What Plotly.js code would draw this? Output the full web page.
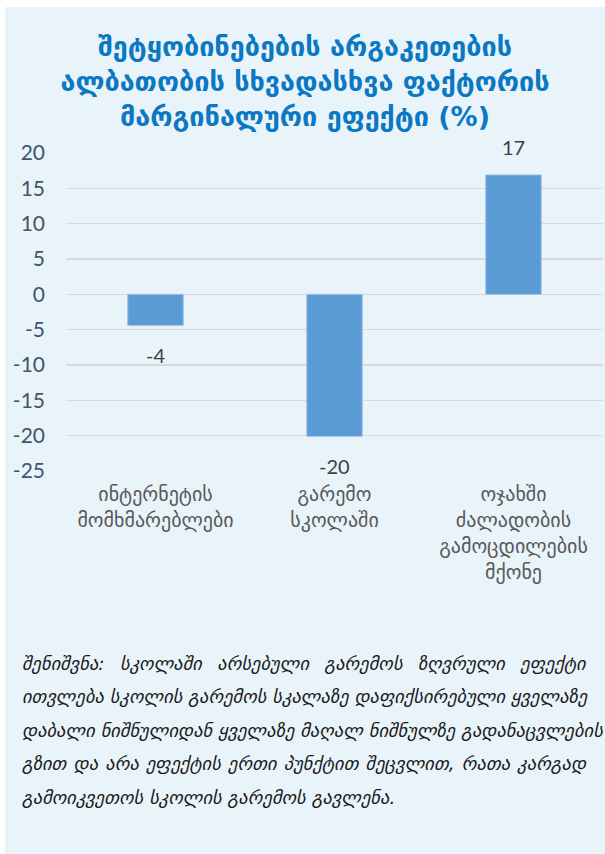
<!DOCTYPE html>
<html>
<head>
<meta charset="utf-8">
<script src="https://cdn.plot.ly/plotly-3.0.1.min.js"></script>
<style>
  html, body { margin: 0; padding: 0; background: #ffffff; width: 605px; height: 854px; overflow: hidden; }
  #chart { position: absolute; left: 5px; top: 7px; width: 600px; height: 847px; }
</style>
</head>
<body>
<div id="chart"></div>
<script>
// ---- data ----
const categories = [
  "ინტერნეტის<br>მომხმარებლები",
  "გარემო<br>სკოლაში",
  "ოჯახში<br>ძალადობის<br>გამოცდილების<br>მქონე"
];
const values = [-4.4, -20.1, 16.9];
const yTicks = [20, 15, 10, 5, 0, -5, -10, -15, -20, -25];
const titleLines = [
  "შეტყობინებების არგაკეთების",
  "ალბათობის სხვადასხვა ფაქტორის",
  "მარგინალური ეფექტი (%)"
];
const noteLines = [
  "შენიშვნა: სკოლაში არსებული გარემოს ზღვრული ეფექტი",
  "ითვლება სკოლის გარემოს სკალაზე დაფიქსირებული ყველაზე",
  "დაბალი ნიშნულიდან ყველაზე მაღალ ნიშნულზე გადანაცვლების",
  "გზით და არა ეფექტის ერთი პუნქტით შეცვლით, რათა კარგად",
  "გამოიკვეთოს სკოლის გარემოს გავლენა."
];

// ---- layout geometry ----
const W = 600, H = 847;
const M = { l: 61, r: 2, t: 146, b: 383 };
const plotW = W - M.l - M.r, plotH = H - M.t - M.b;
const px2x = px => (px - M.l) / plotW;
const px2y = py => (H - M.b - py) / plotH;

const annotations = [];
values.forEach((v, i) => {
  annotations.push({
    xref: 'x', yref: 'y', x: categories[i], y: v,
    text: String(Math.round(v)),
    showarrow: false, xanchor: 'center', yanchor: 'middle',
    yshift: v >= 0 ? 28 : -30,
    font: { family: 'Lato, "Open Sans", sans-serif', size: 20, color: '#404040' }
  });
});
const noteTop = 656, noteStep = 33.5;
noteLines.forEach((t, i) => {
  annotations.push({
    xref: 'paper', yref: 'paper', x: px2x(15), y: px2y(noteTop + i * noteStep),
    text: t, showarrow: false, xanchor: 'left', yanchor: 'middle', align: 'left',
    font: { family: '"DejaVu Sans", sans-serif', size: 18.5, color: '#1a1a1a', style: 'italic' }
  });
});

const trace = {
  type: 'bar',
  x: categories,
  y: values,
  marker: { color: '#5b9bd5', line: { color: '#9cc2e5', width: 1 } },
  width: 0.31,
  hoverinfo: 'none'
};

const layout = {
  width: W, height: H,
  margin: M,
  paper_bgcolor: '#e9f3fa',
  plot_bgcolor: 'rgba(0,0,0,0)',
  showlegend: false,
  title: {
    text: titleLines.join('<br>'),
    font: { family: '"DejaVu Sans", sans-serif', size: 27, color: '#0a78c2', weight: 'bold' },
    x: 0.5, xanchor: 'center', xref: 'container',
    y: 1 - 49 / H, yanchor: 'middle', yref: 'container'
  },
  xaxis: {
    type: 'category',
    showgrid: false, zeroline: false, showline: false, ticks: '',
    tickfont: { family: '"DejaVu Sans", sans-serif', size: 20, color: '#595959' },
    ticklabelstandoff: 9,
    fixedrange: true
  },
  yaxis: {
    range: [-25, 20],
    tickvals: yTicks,
    ticktext: yTicks.map(String),
    showgrid: true, gridcolor: '#d9d9d9', gridwidth: 1.5,
    zeroline: true, zerolinecolor: '#d9d9d9', zerolinewidth: 1.5,
    showline: false, ticks: '',
    tickfont: { family: 'Lato, "Open Sans", sans-serif', size: 21, color: '#44546a' },
    ticklabelstandoff: 20,
    fixedrange: true
  },
  annotations: annotations
};

Plotly.newPlot('chart', [trace], layout, { displayModeBar: false, staticPlot: true }).then(gd => {
  // justify the first note lines across the panel width
  const targetRight = 585 - 5;
  const left = M.l + px2x(15) * plotW;
  gd.querySelectorAll('.annotation').forEach(a => {
    const i = Number(a.getAttribute('data-index')) - values.length;
    if (i >= 0 && i < noteLines.length - 1) {
      const t = a.querySelector('.annotation-text');
      if (!t) return;
      const bb = t.getBBox();
      const spaces = (noteLines[i].match(/ /g) || []).length;
      const extra = (targetRight - (left + bb.width)) / spaces;
      if (extra > 0 && extra < 30) t.style.wordSpacing = extra + 'px';
    }
  });
});
</script>
</body>
</html>
